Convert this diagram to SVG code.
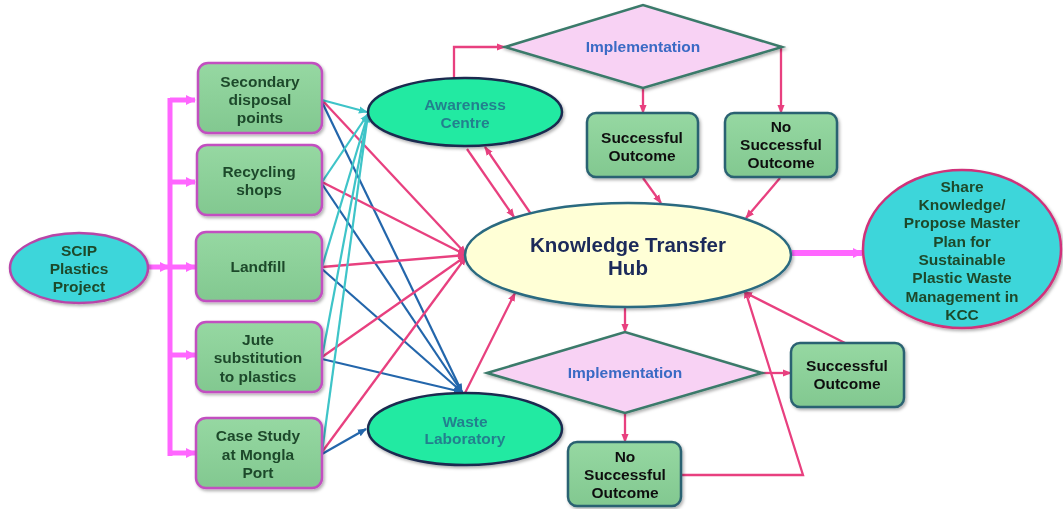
<svg xmlns="http://www.w3.org/2000/svg" width="1063" height="509" viewBox="0 0 1063 509">
<defs>
<style>
.t{font-family:"Liberation Sans",Arial,sans-serif;font-weight:bold;font-size:15.5px;text-anchor:middle}
.lt{fill:#1f4a2c}
.rt{fill:#111}
.ct{fill:#23808e}
.it{fill:#3a6ac4;font-size:15.5px}
.kt{fill:#1b2a5a;font-size:20.5px}
.lb{fill:url(#gg);stroke:#c24fc0;stroke-width:2.5}
.rb{fill:url(#gg);stroke:#2b6272;stroke-width:2.5}
.pk{stroke:#e8407f;stroke-width:2.3;fill:none}
.cy{stroke:#3ec4c8;stroke-width:2.2;fill:none}
.bl{stroke:#2366ab;stroke-width:2.2;fill:none}
.bus{stroke:#ff66ff;stroke-width:5;fill:none}
</style>
<linearGradient id="gg" x1="0" y1="0" x2="0" y2="1">
<stop offset="0" stop-color="#96d8a2"/><stop offset="1" stop-color="#82c890"/>
</linearGradient>
<filter id="sh" x="-10%" y="-10%" width="125%" height="130%">
<feDropShadow dx="1.5" dy="2" stdDeviation="1.5" flood-color="#000" flood-opacity="0.3"/>
</filter>
<marker id="ap" viewBox="0 0 10 10" refX="9" refY="5" markerWidth="9" markerHeight="9" markerUnits="userSpaceOnUse" orient="auto"><path d="M0,1 L10,5 L0,9 z" fill="#e8407f"/></marker>
<marker id="ac" viewBox="0 0 10 10" refX="9" refY="5" markerWidth="9" markerHeight="9" markerUnits="userSpaceOnUse" orient="auto"><path d="M0,1 L10,5 L0,9 z" fill="#3ec4c8"/></marker>
<marker id="ab" viewBox="0 0 10 10" refX="9" refY="5" markerWidth="9" markerHeight="9" markerUnits="userSpaceOnUse" orient="auto"><path d="M0,1 L10,5 L0,9 z" fill="#2366ab"/></marker>
<marker id="am" viewBox="0 0 10 10" refX="9" refY="5" markerWidth="10" markerHeight="12" markerUnits="userSpaceOnUse" orient="auto"><path d="M0,0 L10,5 L0,10 z" fill="#ff66ff"/></marker>
</defs>
<rect width="1063" height="509" fill="#fff"/>

<g id="connectors">
<path class="bus" d="M148,267 H166"/>
<line x1="166" y1="267" x2="169" y2="267" stroke="#ff66ff" stroke-width="5" marker-end="url(#am)"/>
<path class="bus" d="M170,98 V456"/>
<line class="bus" x1="170" y1="100" x2="195" y2="100" marker-end="url(#am)"/>
<line class="bus" x1="170" y1="182" x2="195" y2="182" marker-end="url(#am)"/>
<line class="bus" x1="170" y1="267" x2="195" y2="267" marker-end="url(#am)"/>
<line class="bus" x1="170" y1="355" x2="195" y2="355" marker-end="url(#am)"/>
<line class="bus" x1="170" y1="453" x2="195" y2="453" marker-end="url(#am)"/>
<line class="bl" x1="322" y1="102" x2="462" y2="392" marker-end="url(#ab)"/>
<line class="bl" x1="322" y1="184" x2="462" y2="392" marker-end="url(#ab)"/>
<line class="bl" x1="322" y1="269" x2="462" y2="392" marker-end="url(#ab)"/>
<line class="bl" x1="322" y1="359" x2="462" y2="392" marker-end="url(#ab)"/>
<line class="bl" x1="322" y1="454" x2="366" y2="429" marker-end="url(#ab)"/>
<line class="pk" x1="322" y1="100" x2="466" y2="254" marker-end="url(#ap)"/>
<line class="pk" x1="322" y1="182" x2="466" y2="255" marker-end="url(#ap)"/>
<line class="pk" x1="322" y1="267" x2="466" y2="255" marker-end="url(#ap)"/>
<line class="pk" x1="322" y1="357" x2="466" y2="256" marker-end="url(#ap)"/>
<line class="pk" x1="322" y1="452" x2="466" y2="257" marker-end="url(#ap)"/>
<line class="cy" x1="322" y1="100" x2="367" y2="112" marker-end="url(#ac)"/>
<line class="cy" x1="322" y1="182" x2="368" y2="114" marker-end="url(#ac)"/>
<line class="cy" x1="322" y1="267" x2="368" y2="114" marker-end="url(#ac)"/>
<line class="cy" x1="322" y1="357" x2="368" y2="114" marker-end="url(#ac)"/>
<line class="cy" x1="322" y1="452" x2="368" y2="114" marker-end="url(#ac)"/>
<path class="pk" d="M454,78 V47 H505" marker-end="url(#ap)"/>
<line class="pk" x1="643" y1="88" x2="643" y2="113" marker-end="url(#ap)"/>
<path class="pk" d="M782,47 H781 V113" marker-end="url(#ap)"/>
<line class="pk" x1="643" y1="178" x2="661" y2="203" marker-end="url(#ap)"/>
<line class="pk" x1="780" y1="178" x2="746" y2="218" marker-end="url(#ap)"/>
<line class="pk" x1="467" y1="149" x2="514" y2="217" marker-end="url(#ap)"/>
<line class="pk" x1="531" y1="214" x2="485" y2="147" marker-end="url(#ap)"/>
<line class="pk" x1="625" y1="307" x2="625" y2="332" marker-end="url(#ap)"/>
<line class="pk" x1="762" y1="373" x2="791" y2="373" marker-end="url(#ap)"/>
<line class="pk" x1="625" y1="413" x2="625" y2="442" marker-end="url(#ap)"/>
<line class="pk" x1="845" y1="343" x2="744" y2="292" marker-end="url(#ap)"/>
<path class="pk" d="M681,475 H803 L745,290" marker-end="url(#ap)"/>
<line class="pk" x1="465" y1="393" x2="515" y2="293" marker-end="url(#ap)"/>
<line x1="792" y1="253" x2="862" y2="253" stroke="#ff66ff" stroke-width="6" marker-end="url(#am)"/>
</g>

<g id="scip" filter="url(#sh)">
<ellipse cx="79" cy="268" rx="69" ry="35" fill="#3cd6da" stroke="#b845a8" stroke-width="2.5"/>
<text class="t lt" x="79" y="256">SCIP</text>
<text class="t lt" x="79" y="274">Plastics</text>
<text class="t lt" x="79" y="292">Project</text>
</g>

<g id="secondary" filter="url(#sh)">
<rect class="lb" x="198" y="63" width="124" height="70" rx="10"/>
<text class="t lt" x="260" y="87">Secondary</text>
<text class="t lt" x="260" y="105">disposal</text>
<text class="t lt" x="260" y="123">points</text>
</g>
<g id="recycling" filter="url(#sh)">
<rect class="lb" x="197" y="145" width="125" height="70" rx="10"/>
<text class="t lt" x="259" y="177">Recycling</text>
<text class="t lt" x="259" y="195">shops</text>
</g>
<g id="landfill" filter="url(#sh)">
<rect class="lb" x="196" y="232" width="126" height="69" rx="10"/>
<text class="t lt" x="258" y="272">Landfill</text>
</g>
<g id="jute" filter="url(#sh)">
<rect class="lb" x="196" y="322" width="126" height="70" rx="10"/>
<text class="t lt" x="258" y="345">Jute</text>
<text class="t lt" x="258" y="363">substitution</text>
<text class="t lt" x="258" y="382">to plastics</text>
</g>
<g id="casestudy" filter="url(#sh)">
<rect class="lb" x="196" y="418" width="126" height="70" rx="10"/>
<text class="t lt" x="258" y="441">Case Study</text>
<text class="t lt" x="258" y="460">at Mongla</text>
<text class="t lt" x="258" y="478">Port</text>
</g>

<g id="awareness" filter="url(#sh)">
<ellipse cx="465" cy="112" rx="97" ry="34" fill="#22eaa2" stroke="#1a2a50" stroke-width="2.5"/>
<text class="t ct" x="465" y="110">Awareness</text>
<text class="t ct" x="465" y="128">Centre</text>
</g>
<g id="wastelab" filter="url(#sh)">
<ellipse cx="465" cy="429" rx="97" ry="36" fill="#22eaa2" stroke="#1a2a50" stroke-width="2.5"/>
<text class="t ct" x="465" y="427">Waste</text>
<text class="t ct" x="465" y="444">Laboratory</text>
</g>

<g id="hub" filter="url(#sh)">
<ellipse cx="628" cy="255" rx="163" ry="52" fill="#ffffd6" stroke="#2a6a80" stroke-width="2.5"/>
<text class="t kt" x="628" y="252">Knowledge Transfer</text>
<text class="t kt" x="628" y="275">Hub</text>
</g>

<g id="impl-top" filter="url(#sh)">
<polygon points="505,47 643,5 782,47 643,88" fill="#f8d2f4" stroke="#3a7a6a" stroke-width="2.5"/>
<text class="t it" x="643" y="52">Implementation</text>
</g>
<g id="impl-bottom" filter="url(#sh)">
<polygon points="487,373 625,332 762,373 625,413" fill="#f8d2f4" stroke="#3a7a6a" stroke-width="2.5"/>
<text class="t it" x="625" y="378">Implementation</text>
</g>

<g id="success-top" filter="url(#sh)">
<rect class="rb" x="587" y="113" width="111" height="64" rx="9"/>
<text class="t rt" x="642" y="143">Successful</text>
<text class="t rt" x="642" y="161">Outcome</text>
</g>
<g id="nosuccess-top" filter="url(#sh)">
<rect class="rb" x="725" y="113" width="112" height="64" rx="9"/>
<text class="t rt" x="781" y="132">No</text>
<text class="t rt" x="781" y="150">Successful</text>
<text class="t rt" x="781" y="168">Outcome</text>
</g>
<g id="success-bottom" filter="url(#sh)">
<rect class="rb" x="791" y="343" width="113" height="64" rx="9"/>
<text class="t rt" x="847" y="371">Successful</text>
<text class="t rt" x="847" y="389">Outcome</text>
</g>
<g id="nosuccess-bottom" filter="url(#sh)">
<rect class="rb" x="568" y="442" width="113" height="64" rx="9"/>
<text class="t rt" x="625" y="462">No</text>
<text class="t rt" x="625" y="480">Successful</text>
<text class="t rt" x="625" y="498">Outcome</text>
</g>

<g id="share" filter="url(#sh)">
<ellipse cx="962" cy="249" rx="99" ry="79" fill="#3ed6da" stroke="#d0307a" stroke-width="2.5"/>
<text class="t lt" x="962" y="192">Share</text>
<text class="t lt" x="962" y="210">Knowledge/</text>
<text class="t lt" x="962" y="228">Propose Master</text>
<text class="t lt" x="962" y="247">Plan for</text>
<text class="t lt" x="962" y="265">Sustainable</text>
<text class="t lt" x="962" y="283">Plastic Waste</text>
<text class="t lt" x="962" y="302">Management in</text>
<text class="t lt" x="962" y="320">KCC</text>
</g>
</svg>
